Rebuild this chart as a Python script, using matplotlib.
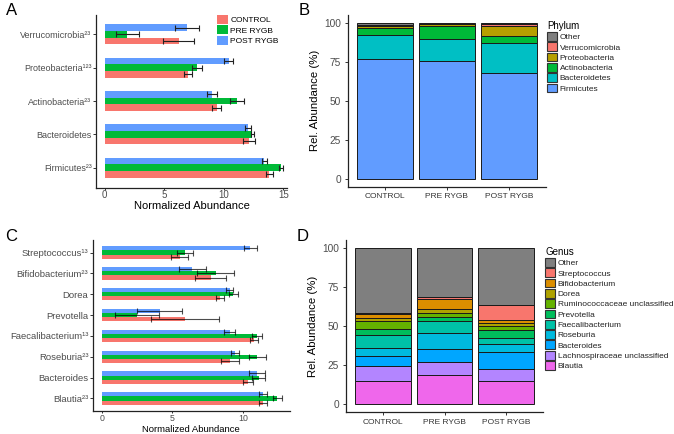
import numpy as np
import matplotlib
matplotlib.use("Agg")
from matplotlib import pyplot as plt
from matplotlib.patches import Patch

plt.rcParams['font.family'] = ['Liberation Sans', 'DejaVu Sans']

# ---- data ----
groups = ['CONTROL', 'PRE RYGB', 'POST RYGB']
group_colors = ['#F8766D', '#00BA38', '#619CFF']

# panel A (top to bottom as shown)
phyla_a = ['Verrucomicrobia²³', 'Proteobacteria¹²³', 'Actinobacteria²³', 'Bacteroidetes', 'Firmicutes²³']
control_a = [6.2, 7.0, 9.4, 12.1, 13.8]
control_a_err = [1.3, 0.35, 0.4, 0.5, 0.3]
pre_a = [1.9, 7.75, 11.1, 12.4, 14.8]
pre_a_err = [0.95, 0.45, 0.55, 0.15, 0.15]
post_a = [6.9, 10.4, 9.0, 12.0, 13.4]
post_a_err = [1.0, 0.35, 0.4, 0.25, 0.2]

# panel C (top to bottom as shown)
genera_c = ['Streptococcus¹³', 'Bifidobacterium²³', 'Dorea', 'Prevotella',
            'Faecalibacterium¹³', 'Roseburia²³', 'Bacteroides', 'Blautia²³']
control_c = [5.5, 7.7, 8.35, 5.9, 10.75, 9.05, 10.35, 11.4]
control_c_err = [0.6, 1.1, 0.3, 2.4, 0.3, 0.65, 0.35, 0.3]
pre_c = [5.9, 8.05, 9.3, 2.5, 11.0, 11.0, 11.1, 12.4]
pre_c_err = [0.55, 1.3, 0.3, 1.55, 0.35, 0.6, 0.45, 0.3]
post_c = [10.5, 6.4, 9.05, 4.1, 9.05, 9.4, 10.95, 11.4]
post_c_err = [0.45, 0.95, 0.25, 1.6, 0.4, 0.3, 0.55, 0.3]

# panel B, stacked bottom to top
phylum_names = ['Firmicutes', 'Bacteroidetes', 'Actinobacteria', 'Proteobacteria', 'Verrucomicrobia', 'Other']
phylum_colors = ['#619CFF', '#00BFC4', '#00BA38', '#B79F00', '#F8766D', '#7F7F7F']
firmicutes = [77.0, 75.5, 67.7]
bacteroidetes = [15.3, 13.9, 19.3]
actinobacteria = [4.1, 8.8, 4.7]
proteobacteria = [1.8, 0.9, 6.5]
verrucomicrobia = [0.5, 0.2, 1.2]
other_phylum = [1.3, 0.7, 0.6]

# panel D, stacked bottom to top
genus_names = ['Blautia', 'Lachnospiraceae unclassified', 'Bacteroides', 'Roseburia',
               'Faecalibacterium', 'Prevotella', 'Ruminococcaceae unclassified', 'Dorea',
               'Bifidobacterium', 'Streptococcus', 'Other']
genus_colors = ['#EF67EB', '#B385FF', '#00A6FF', '#00BADE', '#00C1A7', '#00BD5C',
                '#64B200', '#AEA200', '#DB8E00', '#F8766D', '#7F7F7F']
blautia = [15.3, 19.0, 15.3]
lachno = [9.4, 8.2, 7.5]
bacteroides = [6.1, 7.9, 10.8]
roseburia = [5.4, 10.6, 5.1]
faecali = [8.3, 7.3, 3.9]
prevotella = [3.8, 3.0, 4.8]
rumino = [5.3, 2.5, 2.5]
dorea = [1.9, 2.5, 2.4]
bifido = [2.1, 6.4, 1.9]
strep = [0.7, 1.0, 9.4]
other_genus = [41.7, 31.6, 36.4]

W, H = 674, 434
fig = plt.figure(figsize=(6.74, 4.34), dpi=100)


def px_axes(left, top, right, bottom):
    return fig.add_axes([left / W, 1 - bottom / H, (right - left) / W, (bottom - top) / H])


def style(ax):
    for s in ['top', 'right']:
        ax.spines[s].set_visible(False)
    for s in ['left', 'bottom']:
        ax.spines[s].set_linewidth(0.9)
        ax.spines[s].set_color('#222222')
    ax.tick_params(length=2.0, width=0.7, color='#333333', labelcolor='#4D4D4D', pad=1.2)


def hbars(ax, labels, vals, errs, ecolor, ealpha, lab_size, xlab_size, xtick_size):
    n = len(labels)
    pos = np.arange(n, 0, -1)  # first label at top
    offsets = [-0.2, 0.0, 0.2]
    for k in range(3):
        ax.barh(pos + offsets[k], vals[k], height=0.2, color=group_colors[k], linewidth=0)
        ax.errorbar(vals[k], pos + offsets[k], xerr=errs[k], fmt='none', ecolor=ecolor,
                    alpha=ealpha, elinewidth=0.8, capsize=2.2, capthick=0.8)
    ax.set_yticks(pos)
    ax.set_yticklabels(labels, fontsize=lab_size)
    ax.set_ylim(0.4, n + 0.6)
    ax.set_xlabel('Normalized Abundance', fontsize=xlab_size, labelpad=0.5)
    style(ax)
    ax.tick_params(axis='x', labelsize=xtick_size, pad=0.6, length=1.4)


# ---- A ----
axA = px_axes(96, 14.5, 287, 187.7)
hbars(axA, phyla_a, [control_a, pre_a, post_a], [control_a_err, pre_a_err, post_a_err],
      '#222222', 1.0, 6.5, 8, 7)
axA.set_xlim(-0.73, 15.3)
axA.set_xticks([0, 5, 10, 15])
axA.legend(handles=[Patch(facecolor=c, label=g) for g, c in zip(groups, group_colors)],
           loc='upper left', bbox_to_anchor=(217 / W, 1 - 15 / H), bbox_transform=fig.transFigure,
           frameon=False, fontsize=6, handlelength=1.3, handleheight=1.3, labelspacing=0.12,
           handletextpad=0.3, borderpad=0, borderaxespad=0)

# ---- C ----
c_top, c_bottom = 240.0, 411.0
axC = px_axes(92.7, c_top, 290, c_bottom)
hbars(axC, genera_c, [control_c, pre_c, post_c], [control_c_err, pre_c_err, post_c_err],
      'black', 0.7, 6.8, 6.8, 6.3)
axC.set_xlim(-0.63, 13.3)
axC.set_xticks([0, 5, 10])
axC.xaxis.label.set_va('bottom')
axC.xaxis.set_label_coords(0.5, -(433.6 - c_bottom) / (c_bottom - c_top))


def stacked(ax, layers, names, colors, title, legend_xy):
    x = np.arange(1, 4)
    bottom = np.zeros(3)
    for vals, name, col in zip(layers, names, colors):
        ax.bar(x, vals, bottom=bottom, width=0.9, color=col, edgecolor='#1a1a1a', linewidth=0.7)
        bottom = bottom + np.array(vals)
    ax.set_xlim(0.4, 3.6)
    ax.set_ylim(-5, 105)
    ax.set_xticks(x)
    ax.set_xticklabels(groups, fontsize=6)
    ax.set_yticks([0, 25, 50, 75, 100])
    ax.set_ylabel('Rel. Abundance (%)', fontsize=8.2, labelpad=3)
    style(ax)
    ax.tick_params(axis='y', labelsize=7.3, pad=3)
    ax.tick_params(axis='x', labelcolor='#333333', pad=2.5)
    handles = [Patch(facecolor=c, edgecolor='#333333', linewidth=0.8, label=nm)
               for nm, c in zip(names[::-1], colors[::-1])]
    leg = ax.legend(handles=handles, title=title, loc='upper left',
                    bbox_to_anchor=(legend_xy[0] / W, 1 - legend_xy[1] / H),
                    bbox_transform=fig.transFigure, frameon=False, fontsize=6,
                    title_fontsize=7, handlelength=1.2, handleheight=1.25,
                    labelspacing=0.13, handletextpad=0.3, borderpad=0, borderaxespad=0,
                    alignment='left')
    for t in leg.get_texts():
        t.set_color('#222222')


# ---- B ----
axB = px_axes(348, 15, 546, 186.7)
stacked(axB, [firmicutes, bacteroidetes, actinobacteria, proteobacteria, verrucomicrobia, other_phylum],
        phylum_names, phylum_colors, 'Phylum', (547, 21))

# ---- D ----
axD = px_axes(346, 240, 543, 412.3)
stacked(axD, [blautia, lachno, bacteroides, roseburia, faecali, prevotella, rumino, dorea,
              bifido, strep, other_genus],
        genus_names, genus_colors, 'Genus', (545, 247))

# panel letters
for letter, x, y in [('A', 6, 3), ('B', 299, 3), ('C', 5, 229), ('D', 297, 229)]:
    fig.text(x / W, 1 - y / H, letter, fontsize=12, va='top', ha='left')

fig.savefig('out.png', dpi=100)
